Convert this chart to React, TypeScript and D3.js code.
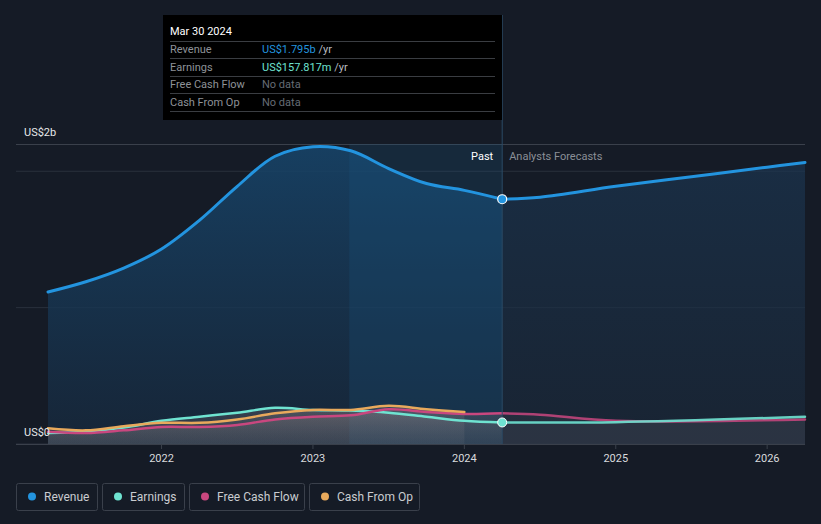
import React, { useEffect, useRef } from 'react';
import * as d3 from 'd3';

// values in US$ billions, time as decimal years
const revenueT = [2021.25, 2021.5, 2021.75, 2022.0, 2022.25, 2022.5, 2022.75, 2023.0, 2023.25, 2023.5, 2023.75, 2024.0, 2024.25];
const revenueV = [1.115, 1.19, 1.29, 1.43, 1.64, 1.89, 2.11, 2.18, 2.15, 2.02, 1.91, 1.86, 1.795];
const revenueFcT = [2024.25, 2024.5, 2025.0, 2025.5, 2026.0, 2026.25];
const revenueFcV = [1.795, 1.81, 1.89, 1.96, 2.03, 2.065];

const earningsT = [2021.25, 2021.5, 2021.75, 2022.0, 2022.25, 2022.5, 2022.75, 2023.0, 2023.25, 2023.5, 2023.75, 2024.0, 2024.25];
const earningsV = [0.08, 0.09, 0.12, 0.17, 0.2, 0.23, 0.265, 0.25, 0.245, 0.23, 0.2, 0.17, 0.158];
const earningsFcT = [2024.25, 2025.0, 2026.25];
const earningsFcV = [0.158, 0.16, 0.2];

const fcfT = [2021.25, 2021.5, 2021.75, 2022.0, 2022.25, 2022.5, 2022.75, 2023.0, 2023.25, 2023.5, 2023.75, 2024.0, 2024.25];
const fcfV = [0.09, 0.08, 0.1, 0.125, 0.125, 0.14, 0.18, 0.2, 0.21, 0.255, 0.235, 0.22, 0.225];
const fcfFcT = [2024.25, 2024.5, 2025.0, 2026.25];
const fcfFcV = [0.225, 0.215, 0.17, 0.18];

const cfoT = [2021.25, 2021.5, 2021.75, 2022.0, 2022.25, 2022.5, 2022.75, 2023.0, 2023.25, 2023.5, 2023.75, 2024.0];
const cfoV = [0.115, 0.1, 0.13, 0.155, 0.155, 0.18, 0.225, 0.25, 0.25, 0.28, 0.255, 0.235];

const yearTicks = [2022, 2023, 2024, 2025, 2026];
const legendItems = ['Revenue', 'Earnings', 'Free Cash Flow', 'Cash From Op'];
const legendColors = ['#2394df', '#6fe3d1', '#c9477f', '#e8a95c'];
const tipRows = [
  { label: 'Revenue', value: 'US$1.795b', unit: ' /yr', color: '#2394df' },
  { label: 'Earnings', value: 'US$157.817m', unit: ' /yr', color: '#6fe3d1' },
  { label: 'Free Cash Flow', value: 'No data', unit: '', color: '#666c75' },
  { label: 'Cash From Op', value: 'No data', unit: '', color: '#666c75' },
];

const W = 821;
const H = 524;
const BG = '#151b26';

const zip = (t: number[], v: number[]) => t.map((d, i) => [d, v[i]] as [number, number]);

const App = () => {
  const ref = useRef<SVGSVGElement | null>(null);

  useEffect(() => {
    document.body.style.margin = '0';
    document.body.style.background = BG;
    const svg = d3.select(ref.current);
    svg.selectAll('*').remove();

    const x = d3.scaleLinear().domain([2021.25, 2026.25]).range([48, 805]);
    const y = d3.scaleLinear().domain([0, 2.2]).range([444, 144]);
    const nowT = 2024.25;
    const bandT = 2023.24;
    const font = 'Roboto, "Open Sans", sans-serif';

    svg.append('rect').attr('width', W).attr('height', H).attr('fill', BG);

    const defs = svg.append('defs');
    const g1 = defs.append('linearGradient').attr('id', 'revPast').attr('x1', 0).attr('y1', 0).attr('x2', 0).attr('y2', 1);
    g1.append('stop').attr('offset', '0%').attr('stop-color', '#17456b').attr('stop-opacity', 0.85);
    g1.append('stop').attr('offset', '100%').attr('stop-color', '#172a3f').attr('stop-opacity', 0.7);
    const g2 = defs.append('linearGradient').attr('id', 'revFc').attr('x1', 0).attr('y1', 0).attr('x2', 0).attr('y2', 1);
    g2.append('stop').attr('offset', '0%').attr('stop-color', '#1b3550').attr('stop-opacity', 0.7);
    g2.append('stop').attr('offset', '100%').attr('stop-color', '#1b2a3c').attr('stop-opacity', 0.6);
    const g3 = defs.append('linearGradient').attr('id', 'small').attr('x1', 0).attr('y1', 0).attr('x2', 0).attr('y2', 1);
    g3.append('stop').attr('offset', '0%').attr('stop-color', '#9a8a8a').attr('stop-opacity', 0.45);
    g3.append('stop').attr('offset', '100%').attr('stop-color', '#6a6e78').attr('stop-opacity', 0.3);

    // gridlines
    [0, 1, 2].forEach((v) => {
      svg.append('line').attr('x1', 16).attr('x2', 805).attr('y1', y(v)).attr('y2', y(v))
        .attr('stroke', '#2a313d').attr('stroke-width', 1);
    });
    svg.append('line').attr('x1', 16).attr('x2', 805).attr('y1', 144.5).attr('y2', 144.5)
      .attr('stroke', '#3a404b').attr('stroke-width', 1);

    const curve = d3.curveCatmullRom.alpha(0.5);
    const area = d3.area<[number, number]>().x((d) => x(d[0])).y0(y(0)).y1((d) => y(d[1])).curve(curve);
    const line = d3.line<[number, number]>().x((d) => x(d[0])).y((d) => y(d[1])).curve(curve);

    const rev = zip(revenueT, revenueV);
    const revFc = zip(revenueFcT, revenueFcV);

    svg.append('path').attr('d', area(rev)).attr('fill', 'url(#revPast)');
    svg.append('path').attr('d', area(revFc)).attr('fill', 'url(#revFc)');

    // highlighted last-year band
    svg.append('rect').attr('x', x(bandT)).attr('y', 144).attr('width', x(nowT) - x(bandT)).attr('height', y(0) - 144)
      .attr('fill', '#1d5a8a').attr('opacity', 0.22);

    // small series areas
    const smalls: [number, number][][] = [
      zip(earningsT, earningsV), zip(fcfT, fcfV), zip(cfoT, cfoV),
    ];
    smalls.forEach((s) => {
      svg.append('path').attr('d', area(s)).attr('fill', 'url(#small)').attr('opacity', 0.55);
    });
    [zip(earningsFcT, earningsFcV), zip(fcfFcT, fcfFcV)].forEach((s) => {
      svg.append('path').attr('d', area(s)).attr('fill', '#3a404c').attr('opacity', 0.35);
    });

    // lines
    const drawLine = (data: [number, number][], color: string, w: number, op = 1) =>
      svg.append('path').attr('d', line(data)).attr('fill', 'none').attr('stroke', color)
        .attr('stroke-width', w).attr('opacity', op).attr('stroke-linecap', 'round');

    drawLine(zip(fcfFcT, fcfFcV), legendColors[2], 2.5, 0.85);
    drawLine(zip(earningsFcT, earningsFcV), legendColors[1], 2.5, 0.9);
    drawLine(zip(earningsT, earningsV), legendColors[1], 2.5);
    drawLine(zip(fcfT, fcfV), legendColors[2], 2.5);
    drawLine(zip(cfoT, cfoV), legendColors[3], 2.5);
    drawLine(rev, legendColors[0], 3);
    drawLine(revFc, legendColors[0], 3);

    // now line
    svg.append('line').attr('x1', x(nowT)).attr('x2', x(nowT)).attr('y1', 15).attr('y2', y(0))
      .attr('stroke', '#2b4a66').attr('stroke-width', 1);

    // markers
    svg.append('circle').attr('cx', x(nowT)).attr('cy', y(1.795)).attr('r', 4.5)
      .attr('fill', legendColors[0]).attr('stroke', '#fff').attr('stroke-width', 1.2);
    svg.append('circle').attr('cx', x(nowT)).attr('cy', y(0.158)).attr('r', 4.5)
      .attr('fill', legendColors[1]).attr('stroke', '#fff').attr('stroke-width', 1);

    // baseline + axis
    svg.append('line').attr('x1', 16).attr('x2', 805).attr('y1', 444.5).attr('y2', 444.5)
      .attr('stroke', '#3a404b').attr('stroke-width', 1);
    yearTicks.forEach((t) => {
      svg.append('line').attr('x1', x(t)).attr('x2', x(t)).attr('y1', 444).attr('y2', 449)
        .attr('stroke', '#3a404b');
      svg.append('text').attr('x', x(t)).attr('y', 462).attr('text-anchor', 'middle')
        .attr('fill', '#d8dadd').attr('font-size', 11).attr('font-family', font).text(String(t));
    });

    svg.append('text').attr('x', 24).attr('y', 136).attr('fill', '#e6e8ea').attr('font-size', 11)
      .attr('font-family', font).text('US$2b');
    svg.append('text').attr('x', 24).attr('y', 436).attr('fill', '#e6e8ea').attr('font-size', 11)
      .attr('font-family', font).text('US$0');

    svg.append('text').attr('x', x(nowT) - 9).attr('y', 160).attr('text-anchor', 'end')
      .attr('fill', '#ffffff').attr('font-size', 11).attr('font-family', font).text('Past');
    svg.append('text').attr('x', x(nowT) + 7).attr('y', 160)
      .attr('fill', '#8a8f97').attr('font-size', 11).attr('font-family', font).text('Analysts Forecasts');

    // tooltip
    const tip = svg.append('g');
    tip.append('rect').attr('x', 163).attr('y', 15).attr('width', 339).attr('height', 105).attr('fill', '#000');
    tip.append('text').attr('x', 170).attr('y', 35).attr('fill', '#fff').attr('font-size', 11)
      .attr('font-family', font).text('Mar 30 2024');
    [41, 58, 76, 93, 111].forEach((ly) => {
      tip.append('line').attr('x1', 170).attr('x2', 495).attr('y1', ly + 0.5).attr('y2', ly + 0.5)
        .attr('stroke', '#3a3d42');
    });
    tipRows.forEach((r, i) => {
      const ty = 53 + i * 17.5;
      tip.append('text').attr('x', 170).attr('y', ty).attr('fill', '#8e9298').attr('font-size', 11)
        .attr('font-family', font).text(r.label);
      const t = tip.append('text').attr('x', 262).attr('y', ty).attr('font-size', 11).attr('font-family', font);
      t.append('tspan').attr('fill', r.color).text(r.value);
      if (r.unit) t.append('tspan').attr('fill', '#b8bbc0').text(r.unit);
    });

    // legend
    const legendX = [16, 102, 189, 309];
    const legendW = [81, 82, 115, 110];
    legendItems.forEach((name, i) => {
      const lg = svg.append('g').attr('transform', `translate(${legendX[i]},483)`);
      lg.append('rect').attr('x', 0.5).attr('y', 0.5).attr('width', legendW[i]).attr('height', 27).attr('rx', 2)
        .attr('fill', 'none').attr('stroke', '#3a404b');
      lg.append('circle').attr('cx', 16).attr('cy', 13.5).attr('r', 4).attr('fill', legendColors[i]);
      lg.append('text').attr('x', 28).attr('y', 17.5).attr('fill', '#c9ccd0').attr('font-size', 12)
        .attr('font-family', font).text(name);
    });
  }, []);

  return (
    <svg ref={ref} width={W} height={H} style={{ position: 'absolute', left: 0, top: 0, display: 'block' }} />
  );
};

export default App;
